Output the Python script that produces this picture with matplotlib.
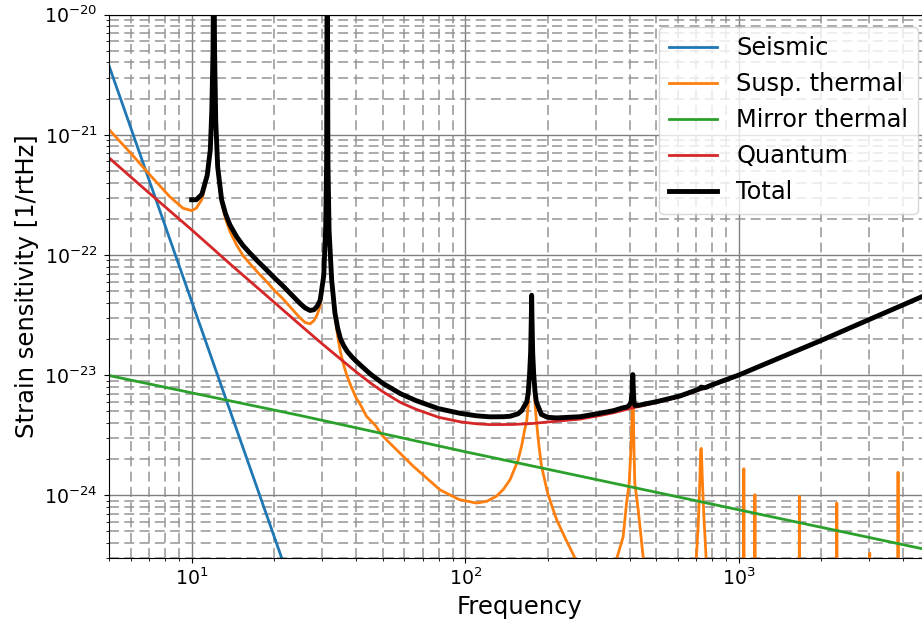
import matplotlib
matplotlib.use("Agg")
import matplotlib.pyplot as plt

# ---------------- data ----------------
seis_f = [5, 7, 10, 14, 20, 25]
seis_h = [3.7e-21, 4.16e-22, 4.11e-23, 4.63e-24, 4.57e-25, 1.07e-25]

susp_f = [5, 6, 7, 8.3, 9.3, 10, 10.4, 10.9, 11.4, 11.7, 11.85, 11.97, 12.05, 12.13,
          12.25, 12.45, 12.87, 13.3, 13.8, 14.6, 15.4, 16.3, 17.5, 18.8, 20, 21.6, 23,
          24.9, 26, 27.1, 28.0, 28.8, 29.5, 30.4, 30.9, 31.15, 31.3, 31.5, 31.8, 32.5,
          33.4, 34.2, 35, 36, 37, 38.5, 40, 41, 43.6, 47, 50, 56, 64.6, 72, 80.8, 95,
          110, 120, 130, 138, 146, 156, 161, 165, 168, 170, 172, 173.5, 174.4, 175,
          175.6, 176.5, 178, 180, 182, 186, 190, 200, 208, 216, 232, 252, 300, 357, 378,
          389, 397.6, 404, 408, 410, 412, 414, 417, 429, 447, 460, 550, 650, 700, 712,
          720, 726, 730, 736, 745, 760, 800, 1040, 1044, 1048, 1142, 1146, 1150, 1662,
          1667, 1672, 2278, 2284, 2290, 3005, 3013, 3021, 3814, 3824, 3834, 5000]
susp_h = [1.1e-21, 7.0e-22, 4.7e-22, 3.07e-22, 2.45e-22, 2.34e-22, 2.45e-22, 2.9e-22,
          4.4e-22, 7.3e-22, 1.6e-21, 5e-21, 5e-20, 5e-21, 1.3e-21, 5.3e-22, 2.7e-22,
          2.0e-22, 1.57e-22, 1.21e-22, 9.9e-23, 8.5e-23, 7.1e-23, 6.0e-23, 5.1e-23,
          4.3e-23, 3.66e-23, 2.99e-23, 2.74e-23, 2.67e-23, 2.84e-23, 3.2e-23, 3.77e-23,
          6.5e-23, 1.7e-22, 6e-22, 5e-20, 6e-22, 1.6e-22, 6.0e-23, 3.05e-23, 2.1e-23,
          1.55e-23, 1.2e-23, 9.8e-24, 7.8e-24, 6.4e-24, 5.9e-24, 4.53e-24, 3.8e-24,
          3.1e-24, 2.4e-24, 1.74e-24, 1.4e-24, 1.11e-24, 9.2e-25, 8.6e-25, 8.9e-25,
          9.8e-25, 1.12e-24, 1.35e-24, 1.95e-24, 2.6e-24, 3.5e-24, 4.2e-24, 5.6e-24,
          9.3e-24, 1.5e-23, 2.8e-23, 4.6e-23, 2.8e-23, 1.5e-23, 9.3e-24, 5.8e-24,
          4.25e-24, 2.6e-24, 1.76e-24, 1.05e-24, 8.0e-25, 6.25e-25, 4.4e-25, 3.0e-25,
          1.0e-25, 2.9e-25, 4.5e-25, 8.6e-25, 1.25e-24, 2.5e-24, 5e-24, 8.5e-24, 5e-24,
          2.5e-24, 1.25e-24, 7.6e-25, 3.1e-25, 2e-25, 1e-25, 1.2e-25, 3e-25, 6e-25,
          1.2e-24, 2.4e-24, 2.45e-24, 1.4e-24, 7e-25, 3e-25, 1e-25, 1e-25, 1.66e-24,
          1e-25, 1e-25, 1.01e-24, 1e-25, 1e-25, 9.8e-25, 1e-25, 1e-25, 8.6e-25, 1e-25,
          1e-25, 3.3e-25, 1e-25, 1e-25, 1.55e-24, 1e-25, 1e-25]

mirr_f = [5, 25, 100, 4670, 5000]
mirr_h = [9.9e-24, 4.6e-24, 2.3e-24, 3.59e-25, 3.45e-25]

quan_f = [5, 7, 10, 14, 20, 25, 30, 35, 40, 45, 50, 58, 66, 80, 96, 110, 123, 150, 175,
          204, 263, 310, 348, 405, 500, 610, 800, 1000, 1400, 2000, 3000, 4000, 5000]
quan_h = [6.4e-22, 3.27e-22, 1.62e-22, 8.2e-23, 4.05e-23, 2.6e-23, 1.82e-23, 1.36e-23,
          1.06e-23, 8.61e-24, 7.27e-24, 5.91e-24, 5.2e-24, 4.45e-24, 4.08e-24, 3.93e-24,
          3.87e-24, 3.88e-24, 3.95e-24, 4.08e-24, 4.3e-24, 4.6e-24, 4.85e-24, 5.3e-24,
          5.9e-24, 6.6e-24, 8.2e-24, 1.0e-23, 1.38e-23, 1.94e-23, 2.9e-23, 3.85e-23,
          4.8e-23]

tot_f = [10, 10.4, 10.9, 11.4, 11.7, 11.85, 11.97, 12.05, 12.13, 12.25, 12.45, 12.87,
         13.3, 13.8, 14.6, 15.4, 16.3, 17.5, 18.8, 20, 21.6, 23, 24.9, 26, 27.1, 28.0,
         28.8, 29.5, 30.4, 30.9, 31.15, 31.3, 31.5, 31.8, 32.5, 33.4, 34.2, 35, 36, 37,
         38.5, 40, 45, 50, 58, 66, 80, 96, 110, 123, 138, 146, 156, 161, 165, 168, 170,
         172, 173.5, 174.4, 175, 175.6, 176.5, 178, 180, 182, 190, 200, 216, 263, 310,
         348, 378, 389, 397.6, 404, 408, 410, 412, 414, 417, 429, 447, 500, 610, 700,
         720, 726, 730, 736, 760, 800, 1000, 1400, 2000, 3000, 4000, 5000]
tot_h = [2.88e-22, 2.88e-22, 3.2e-22, 4.6e-22, 7.5e-22, 1.6e-21, 5e-21, 5e-20, 5e-21,
         1.3e-21, 5.4e-22, 2.88e-22, 2.2e-22, 1.78e-22, 1.42e-22, 1.2e-22, 1.04e-22,
         8.8e-23, 7.5e-23, 6.5e-23, 5.5e-23, 4.75e-23, 3.95e-23, 3.62e-23, 3.45e-23,
         3.5e-23, 3.75e-23, 4.2e-23, 6.7e-23, 1.7e-22, 6e-22, 5e-20, 6e-22, 1.6e-22,
         6.2e-23, 3.3e-23, 2.45e-23, 2.0e-23, 1.75e-23, 1.58e-23, 1.42e-23, 1.3e-23,
         1.02e-23, 8.53e-24, 7.0e-24, 6.14e-24, 5.25e-24, 4.8e-24, 4.58e-24, 4.49e-24,
         4.5e-24, 4.54e-24, 4.76e-24, 5.06e-24, 5.58e-24, 6.0e-24, 7.1e-24, 1.03e-23,
         1.55e-23, 2.83e-23, 4.62e-23, 2.83e-23, 1.55e-23, 1.03e-23, 7.3e-24, 6.0e-24,
         4.7e-24, 4.45e-24, 4.4e-24, 4.5e-24, 4.8e-24, 5.05e-24, 5.35e-24, 5.4e-24,
         5.6e-24, 5.95e-24, 7.4e-24, 1.01e-23, 7.4e-24, 6.0e-24, 5.6e-24, 5.6e-24,
         5.7e-24, 6.0e-24, 6.7e-24, 7.5e-24, 7.7e-24, 7.9e-24, 7.95e-24, 7.8e-24,
         7.9e-24, 8.3e-24, 1.0e-23, 1.38e-23, 1.94e-23, 2.9e-23, 3.85e-23, 4.8e-23]

labels = ["Seismic", "Susp. thermal", "Mirror thermal", "Quantum", "Total"]

# ---------------- figure ----------------
fig = plt.figure(figsize=(9.22, 6.27), dpi=100)
ax = fig.add_axes([0.11855, 0.11005, 0.89002, 0.86651])

ax.loglog(seis_f, seis_h, color="C0", lw=2, label=labels[0])
ax.loglog(susp_f, susp_h, color="C1", lw=2, label=labels[1])
ax.loglog(mirr_f, mirr_h, color="C2", lw=2, label=labels[2])
ax.loglog(quan_f, quan_h, color="C3", lw=2, label=labels[3])
ax.loglog(tot_f, tot_h, color="k", lw=3.5, label=labels[4])

ax.set_xlim(5, 5000)
ax.set_ylim(3e-25, 1e-20)

ax.grid(True, which="major", color="0.5", ls="-", lw=1)
ax.grid(True, which="minor", color="0.58", ls=(0, (6.5, 3.5)), lw=1.1)

ax.tick_params(axis="both", which="major", labelsize=13.6)
ax.tick_params(axis="y", which="major", pad=5)
ax.set_xlabel("Frequency", fontsize=17.5)
ax.set_ylabel("Strain sensitivity [1/rtHz]", fontsize=17.5)

ax.legend(loc="upper right", fontsize=17.3)

fig.savefig("out.png", dpi=100)
